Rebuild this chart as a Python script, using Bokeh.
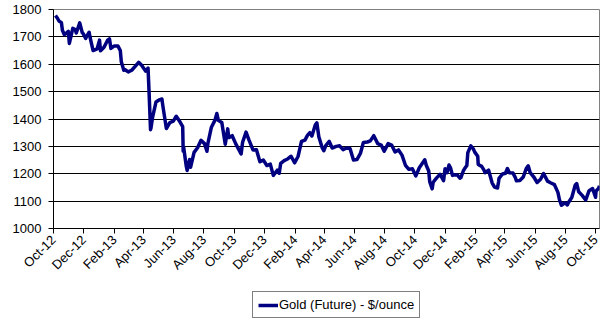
import pandas as pd
from bokeh.plotting import figure
from bokeh.layouts import column
from bokeh.models import Range1d, FixedTicker, Legend, LegendItem, ColumnDataSource
from bokeh.embed import file_html
from bokeh.resources import INLINE

# ---- data ----
dates = [
    "2012-10-05", "2012-10-09", "2012-10-12", "2012-10-17", "2012-10-19", "2012-10-23", "2012-10-26",
    "2012-10-31", "2012-11-02", "2012-11-09", "2012-11-14", "2012-11-16", "2012-11-23", "2012-11-28",
    "2012-11-30", "2012-12-05", "2012-12-07", "2012-12-12", "2012-12-14", "2012-12-20", "2012-12-28",
    "2013-01-02", "2013-01-04", "2013-01-11", "2013-01-18", "2013-01-22", "2013-01-25", "2013-02-01",
    "2013-02-08", "2013-02-13", "2013-02-15", "2013-02-20", "2013-02-22", "2013-03-01", "2013-03-08",
    "2013-03-15", "2013-03-22", "2013-03-28", "2013-04-05", "2013-04-10", "2013-04-12", "2013-04-15",
    "2013-04-16", "2013-04-19", "2013-04-26", "2013-05-03", "2013-05-08", "2013-05-10", "2013-05-17",
    "2013-05-24", "2013-05-31", "2013-06-06", "2013-06-14", "2013-06-19", "2013-06-20", "2013-06-21",
    "2013-06-26", "2013-06-28", "2013-07-03", "2013-07-05", "2013-07-12", "2013-07-19", "2013-07-26",
    "2013-08-02", "2013-08-07", "2013-08-09", "2013-08-16", "2013-08-23", "2013-08-27", "2013-08-30",
    "2013-09-06", "2013-09-13", "2013-09-18", "2013-09-20", "2013-09-27", "2013-10-04", "2013-10-15",
    "2013-10-18", "2013-10-25", "2013-10-31", "2013-11-08", "2013-11-15", "2013-11-22", "2013-11-29",
    "2013-12-06", "2013-12-13", "2013-12-19", "2013-12-27", "2013-12-31",
    "2014-01-03", "2014-01-10", "2014-01-17", "2014-01-24", "2014-01-31", "2014-02-07", "2014-02-14",
    "2014-02-21", "2014-02-26", "2014-03-03", "2014-03-07", "2014-03-14", "2014-03-17", "2014-03-21",
    "2014-03-28", "2014-03-31", "2014-04-04", "2014-04-11", "2014-04-17", "2014-04-25", "2014-05-02",
    "2014-05-09", "2014-05-16", "2014-05-23", "2014-05-30", "2014-06-06", "2014-06-13", "2014-06-19",
    "2014-06-27", "2014-07-03", "2014-07-10", "2014-07-18", "2014-07-25", "2014-07-31", "2014-08-08",
    "2014-08-15", "2014-08-22", "2014-08-29", "2014-09-05", "2014-09-12", "2014-09-19", "2014-09-26",
    "2014-10-03", "2014-10-10", "2014-10-21", "2014-10-24", "2014-10-29", "2014-10-31", "2014-11-05",
    "2014-11-07", "2014-11-14", "2014-11-21", "2014-11-28", "2014-12-01", "2014-12-05", "2014-12-09",
    "2014-12-12", "2014-12-16", "2014-12-19", "2014-12-26", "2014-12-31",
    "2015-01-02", "2015-01-07", "2015-01-09", "2015-01-14", "2015-01-16", "2015-01-22", "2015-01-27",
    "2015-01-30", "2015-02-05", "2015-02-06", "2015-02-13", "2015-02-18", "2015-02-20", "2015-02-27",
    "2015-03-06", "2015-03-11", "2015-03-17", "2015-03-19", "2015-03-20", "2015-03-27", "2015-04-02",
    "2015-04-06", "2015-04-10", "2015-04-17", "2015-04-22", "2015-04-24", "2015-05-01", "2015-05-08",
    "2015-05-14", "2015-05-18", "2015-05-22", "2015-05-29", "2015-06-05", "2015-06-12", "2015-06-18",
    "2015-06-26", "2015-07-02", "2015-07-10", "2015-07-17", "2015-07-20", "2015-07-24", "2015-07-31",
    "2015-08-05", "2015-08-07", "2015-08-14", "2015-08-21", "2015-08-24", "2015-08-28", "2015-09-04",
    "2015-09-11", "2015-09-18", "2015-09-25", "2015-10-01", "2015-10-02", "2015-10-07", "2015-10-09",
]
gold_price = [
    1778, 1768, 1758, 1752, 1724, 1708, 1712,
    1720, 1676, 1731, 1727, 1714, 1751, 1716,
    1712, 1694, 1702, 1717, 1697, 1650, 1656,
    1688, 1649, 1662, 1687, 1693, 1658, 1667,
    1667, 1650, 1609, 1578, 1581, 1572, 1578,
    1592, 1607, 1596, 1575, 1586, 1501, 1361,
    1368, 1405, 1462, 1470, 1473, 1447, 1365,
    1387, 1392, 1410, 1388, 1372, 1282, 1296,
    1230, 1212, 1252, 1224, 1278, 1295, 1322,
    1310, 1282, 1312, 1370, 1395, 1420, 1395,
    1387, 1308, 1364, 1332, 1339, 1310, 1272,
    1315, 1352, 1323, 1287, 1288, 1244, 1250,
    1230, 1235, 1194, 1213, 1202,
    1238, 1248, 1254, 1264, 1240, 1263, 1318,
    1323, 1340, 1350, 1338, 1379, 1386, 1335,
    1294, 1284, 1303, 1318, 1294, 1300, 1302,
    1288, 1294, 1292, 1250, 1252, 1274, 1314,
    1316, 1320, 1339, 1310, 1305, 1282, 1310,
    1305, 1280, 1287, 1268, 1231, 1216, 1218,
    1192, 1222, 1251, 1231, 1210, 1171, 1145,
    1169, 1185, 1198, 1175, 1218, 1204, 1232,
    1222, 1194, 1196, 1195, 1184,
    1186, 1211, 1217, 1230, 1277, 1302, 1291,
    1279, 1264, 1234, 1227, 1212, 1204, 1213,
    1167, 1151, 1148, 1170, 1183, 1199, 1202,
    1219, 1204, 1203, 1186, 1174, 1175, 1188,
    1219, 1229, 1204, 1189, 1168, 1180, 1201,
    1173, 1167, 1160, 1132, 1106, 1085, 1094,
    1086, 1094, 1113, 1159, 1164, 1134, 1121,
    1104, 1138, 1146, 1114, 1137, 1146, 1156,
]
tick_dates = [
    "2012-10-01", "2012-12-01", "2013-02-01", "2013-04-01", "2013-06-01", "2013-08-01",
    "2013-10-01", "2013-12-01", "2014-02-01", "2014-04-01", "2014-06-01", "2014-08-01",
    "2014-10-01", "2014-12-01", "2015-02-01", "2015-04-01", "2015-06-01", "2015-08-01",
    "2015-10-01",
]
tick_labels = [
    "Oct-12", "Dec-12", "Feb-13", "Apr-13", "Jun-13", "Aug-13", "Oct-13", "Dec-13", "Feb-14",
    "Apr-14", "Jun-14", "Aug-14", "Oct-14", "Dec-14", "Feb-15", "Apr-15", "Jun-15", "Aug-15",
    "Oct-15",
]
y_ticks = [1000, 1100, 1200, 1300, 1400, 1500, 1600, 1700, 1800]
series_name = "Gold (Future) - $/ounce"

# ---- build ----
origin = pd.Timestamp("2012-10-01")
xd = [(pd.Timestamp(d) - origin).days for d in dates]
xt = [(pd.Timestamp(d) - origin).days for d in tick_dates]
x_end = (pd.Timestamp("2015-10-09") - origin).days

FONT = "Liberation Sans"
NAVY = "#000080"

src = ColumnDataSource(dict(x=xd, y=gold_price))

p = figure(width=605, height=280, output_backend="svg", toolbar_location=None,
           x_range=Range1d(0, x_end), y_range=Range1d(1000, 1800),
           min_border_left=53, min_border_right=6, min_border_top=9, min_border_bottom=50)
p.background_fill_color = "white"
p.border_fill_color = "white"
p.outline_line_color = "#808080"
p.outline_line_width = 1

r = p.line("x", "y", source=src, line_color=NAVY, line_width=3.5, line_join="round")

p.xaxis.ticker = FixedTicker(ticks=xt)
p.xaxis.major_label_overrides = {t: l for t, l in zip(xt, tick_labels)}
p.xaxis.major_label_orientation = 0.785398
p.yaxis.ticker = FixedTicker(ticks=y_ticks)
for ax in (p.xaxis[0], p.yaxis[0]):
    ax.axis_line_color = "black"
    ax.axis_line_width = 1
    ax.major_tick_line_color = "black"
    ax.major_tick_in = 0
    ax.major_tick_out = 5
    ax.minor_tick_line_color = None
    ax.major_label_text_font = FONT
    ax.major_label_text_font_size = "13px"
    ax.major_label_text_color = "black"
p.yaxis.major_label_standoff = 7
p.xaxis.major_label_standoff = 4

p.xgrid.grid_line_color = None
p.ygrid.ticker = FixedTicker(ticks=y_ticks[1:-1])
p.ygrid.grid_line_color = "black"
p.ygrid.grid_line_width = 1

# ---- legend strip below the chart ----
lg = figure(width=605, height=44, output_backend="svg", toolbar_location=None,
            x_range=Range1d(-20, -10), y_range=Range1d(0, 1),
            x_axis_location=None, y_axis_location=None,
            min_border_left=0, min_border_right=0, min_border_top=0, min_border_bottom=0)
lg.outline_line_color = None
lg.grid.grid_line_color = None
lg.background_fill_color = "white"
lg.border_fill_color = "white"
r2 = lg.line("x", "y", source=src, line_color=NAVY, line_width=3.5)

legend = Legend(items=[LegendItem(label=series_name, renderers=[r2])],
                location=(199, 6), orientation="horizontal",
                border_line_color="black", border_line_width=1,
                background_fill_color="white", background_fill_alpha=1,
                label_text_font=FONT, label_text_font_size="13px",
                label_text_color="black", label_height=14, glyph_height=14,
                glyph_width=20, label_standoff=1, padding=5, spacing=0, margin=0)
lg.add_layout(legend, "center")

layout = column(p, lg, spacing=0)
open("out.html", "w").write(file_html(layout, INLINE))
